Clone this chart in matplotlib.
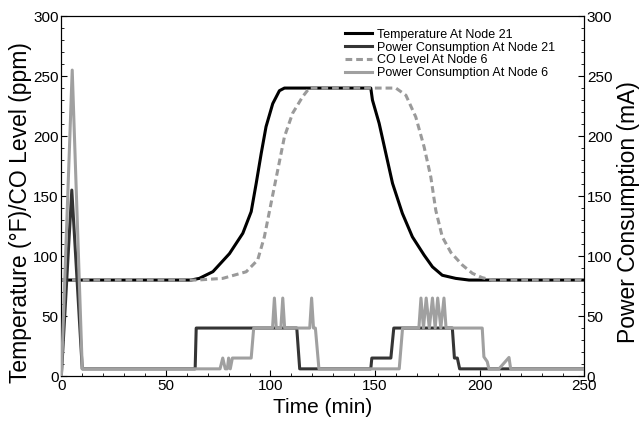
import numpy as np
import matplotlib
matplotlib.use("Agg")
import matplotlib.pyplot as plt
from matplotlib.ticker import MultipleLocator

plt.rcParams['font.family'] = ['Liberation Sans', 'DejaVu Sans']

# Temperature at node 21 (°F)
t_temp = [0, 62, 66, 72.5, 80.4, 86.8, 90.8, 93.2, 95.6, 97.9, 101.1, 104.3, 106.7,
          148, 148.8, 152, 155.2, 158.4, 163.1, 167.9, 173.5, 177.5, 182.2, 188.6, 195, 250]
temp = [80, 80, 81.4, 87, 102, 119, 137, 160.6, 185.6, 207.8, 227, 237.8, 240,
        240, 230, 210.6, 185.6, 160.6, 135.6, 116, 100.8, 91, 84, 81.4, 80, 80]

# CO level at node 6 (ppm)
t_co = [0, 65, 77.2, 88.4, 93.9, 97.1, 100.3, 103.5, 106.7, 110.6, 115.4, 118.6,
        160, 164.8, 169.5, 173.5, 176.7, 179.1, 182.2, 186.3, 191.8, 196.6, 201.3, 206, 250]
co = [80, 80, 81.4, 86.9, 96.7, 116, 144, 171.7, 199.4, 219, 232.8, 240,
      240, 234, 216, 191, 166, 138, 116, 103, 92.5, 85.6, 82, 80, 80]

# Power consumption at node 21 (mA)
t_p21 = [0, 5, 10, 64, 64.5, 112.6, 114, 148, 148.5, 157.6, 159, 187, 188, 189.4, 190.5, 250]
p21 = [0, 155, 6, 6, 40, 40, 6, 6, 15, 15, 40, 40, 15, 15, 6, 6]

# Power consumption at node 6 (mA)
t_p6 = [0, 5.2, 10, 75.9, 77.2, 78.4, 79.4, 80.0, 80.8, 81.8, 90.8, 92,
        101, 101.9, 102.8, 105, 105.9, 106.8, 118.8, 119.7, 120.6, 121.5, 123.2,
        161.6, 163.2, 171, 172, 173.2, 174.5, 176, 177.5, 178.8, 180, 181.5, 183, 184,
        201.3, 202.1, 203.7, 204.5, 209.3, 214.1, 214.9, 250]
p6 = [0, 255, 6, 6, 15, 6, 6, 15, 6, 15, 15, 40,
      40, 65, 40, 40, 65, 40, 40, 65, 40, 40, 6,
      6, 40, 40, 65, 40, 65, 40, 65, 40, 65, 40, 65, 40,
      40, 16, 12, 6, 6, 15.5, 6, 6]

fig = plt.figure(figsize=(6.39, 4.23), dpi=100)
ax = fig.add_axes([0.096, 0.111, 0.818, 0.851])
ax2 = ax.twinx()

ax.plot(t_temp, temp, color='black', lw=2.2, label='Temperature At Node 21', zorder=3)
ax.plot(t_co, co, color='#9a9a9a', lw=2.2, ls=(0, (2.2, 1.3)), label='CO Level At Node 6', zorder=4)
ax2.plot(t_p21, p21, color='#353535', lw=2.2, label='Power Consumption At Node 21', zorder=2)
ax2.plot(t_p6, p6, color='#a0a0a0', lw=2.2, label='Power Consumption At Node 6', zorder=3)

for a in (ax, ax2):
    a.set_xlim(0, 250)
    a.set_ylim(0, 300)
    a.yaxis.set_major_locator(MultipleLocator(50))
    a.yaxis.set_minor_locator(MultipleLocator(10))
    a.tick_params(which='both', direction='in', labelsize=11, pad=2)
    a.tick_params(which='major', length=4, width=0.8)
    a.tick_params(which='minor', length=2.5, width=0.6)
ax.xaxis.set_major_locator(MultipleLocator(50))
ax.xaxis.set_minor_locator(MultipleLocator(10))

ax.set_xlabel('Time (min)', fontsize=15, labelpad=4)
ax.set_ylabel('Temperature (°F)/CO Level (ppm)', fontsize=16.5)
ax2.set_ylabel('Power Consumption (mA)', fontsize=16.5)
ax.yaxis.set_label_coords(-0.056, 0.455)
ax2.yaxis.set_label_coords(1.063, 0.455)

h1, l1 = ax.get_legend_handles_labels()
h2, l2 = ax2.get_legend_handles_labels()
handles = [h1[0], h2[0], h1[1], h2[1]]
labels = [l1[0], l2[0], l1[1], l2[1]]
ax2.legend(handles, labels, loc='upper left', bbox_to_anchor=(0.5426, 0.965),
           frameon=False, fontsize=9, handlelength=2.2, handletextpad=0.4,
           labelspacing=0.07, borderpad=0, borderaxespad=0)

plt.savefig('out.png', dpi=100)
